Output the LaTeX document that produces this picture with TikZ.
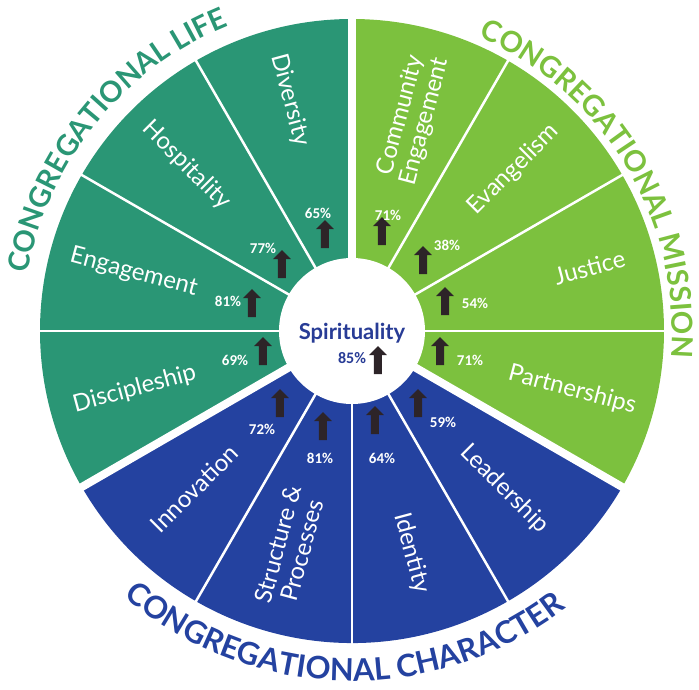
\documentclass[tikz,border=0pt]{standalone}
\usepackage{fontspec}
\setmainfont{Lato}
\newfontfamily\pctfont{Carlito}
\usetikzlibrary{shapes.arrows,decorations.text}

\definecolor{lifeteal}{RGB}{42,150,117}
\definecolor{missiongreen}{RGB}{124,193,62}
\definecolor{charblue}{RGB}{36,66,160}
\definecolor{spiritblue}{RGB}{40,60,150}
\definecolor{arrowdark}{RGB}{45,36,40}

\begin{document}
\begin{tikzpicture}[
			x=1pt, y=1pt,
			section gap/.style={white, line width=8pt},
			segment gap/.style={white, line width=2.5pt},
			segment label/.style={text=white, align=center, inner sep=0pt,
				font=\fontsize{24}{25}\selectfont},
			pct label/.style={text=white, inner sep=0pt,
				font=\pctfont\bfseries\fontsize{15}{15}\selectfont},
			up arrow/.style={
				single arrow, fill=arrowdark, draw=none,
				shape border rotate=90, inner sep=3.8pt,
				minimum height=28pt, minimum width=17pt,
				single arrow head extend=5pt
			},
			ring title/.style={decorate, decoration={text along path, text align=center}}
			]
			\useasboundingbox (-352,-358) rectangle (347,331);
			
			% the three sections of the wheel
			\fill[lifeteal] (0,0) -- (90:312) arc[start angle=90, end angle=210, radius=312] -- cycle;
			\fill[missiongreen] (0,0) -- (90:312) arc[start angle=90, end angle=-30, radius=312] -- cycle;
			\fill[charblue] (0,0) -- (210:312) arc[start angle=210, end angle=330, radius=312] -- cycle;
			
			\draw[segment gap] (0,0) -- (120:318);
			\draw[segment gap] (0,0) -- (150:318);
			\draw[segment gap] (0,0) -- (180:318);
			\draw[segment gap] (0,0) -- (60:318);
			\draw[segment gap] (0,0) -- (30:318);
			\draw[segment gap] (0,0) -- (0:318);
			\draw[segment gap] (0,0) -- (240:318);
			\draw[segment gap] (0,0) -- (270:318);
			\draw[segment gap] (0,0) -- (300:318);
			
			\draw[section gap] (0,0) -- (90:320);
			\draw[section gap] (0,0) -- (210:320);
			\draw[section gap] (0,0) -- (330:320);
			
			\fill[white] (0,0) circle[radius=73];
			
			% titles round the rim
			\path[ring title, decoration={text color=lifeteal,
				text={|\bfseries\fontsize{29}{29}\selectfont|CONGREGATIONAL LIFE}}]
				(201:329) arc[start angle=201, end angle=81, radius=329];
			\path[ring title, decoration={text color=missiongreen,
				text={|\bfseries\fontsize{29}{29}\selectfont|CONGREGATIONAL MISSION}}]
				(71:320) arc[start angle=71, end angle=-9, radius=320];
			\path[ring title, decoration={text color=charblue,
				text={|\bfseries\fontsize{31}{31}\selectfont|CONGREGATIONAL CHARACTER}}]
				(218.5:350) arc[start angle=218.5, end angle=318.5, radius=350];
			
			% segment names
			\node[segment label, rotate=-75] (diversity) at (105:239) {Diversity};
			\node[segment label, rotate=-45] (hospitality) at (135:234) {Hospitality};
			\node[segment label, rotate=-15] (engagement) at (165:226) {Engagement};
			\node[segment label, rotate=15] (discipleship) at (195:225) {Discipleship};
			\node[segment label, rotate=45] (innovation) at (225:223) {Innovation};
			\node[segment label, rotate=75] (structure) at (254:225) {Structure \&\\Processes};
			\node[segment label, rotate=-75] (identity) at (285:230) {Identity};
			\node[segment label, rotate=-45] (leadership) at (314:219) {Leadership};
			\node[segment label, rotate=-15] (partnerships) at (345:228) {Partnerships};
			\node[segment label, rotate=15] (justice) at (15:246) {Justice};
			\node[segment label, rotate=45] (evangelism) at (45:228) {Evangelism};
			\node[segment label, rotate=75] (community) at (74:221) {Community\\Engagement};
			
			% scores
			\node[up arrow] (arDiv) at (-27,95) {};
			\node[pct label] (pDiv) at (-34,118) {65\%};
			\node[up arrow] (arHosp) at (-70,65) {};
			\node[pct label] (pHosp) at (-89,83) {77\%};
			\node[up arrow] (arEng) at (-100,26) {};
			\node[pct label] (pEng) at (-124,30) {81\%};
			\node[up arrow] (arDisc) at (-89,-22) {};
			\node[pct label] (pDisc) at (-117,-29) {69\%};
			\node[up arrow] (arInn) at (-72,-74) {};
			\node[pct label] (pInn) at (-90,-98) {72\%};
			\node[up arrow] (arStr) at (-29,-97) {};
			\node[pct label] (pStr) at (-32,-127) {81\%};
			\node[up arrow] (arIdt) at (23,-91) {};
			\node[pct label] (pIdt) at (30,-127) {64\%};
			\node[up arrow] (arLead) at (66,-74) {};
			\node[pct label] (pLead) at (91,-91) {59\%};
			\node[up arrow] (arPart) at (88,-22) {};
			\node[pct label] (pPart) at (118,-29) {71\%};
			\node[up arrow] (arJust) at (93,28) {};
			\node[pct label] (pJust) at (123,28) {54\%};
			\node[up arrow] (arEvan) at (71,69) {};
			\node[pct label] (pEvan) at (95,86) {38\%};
			\node[up arrow] (arComm) at (30,98) {};
			\node[pct label] (pComm) at (36,116) {71\%};
			
			% hub
			\node[text=spiritblue, font=\bfseries\fontsize{22}{22}\selectfont] (spirit) at (0,-2) {Spirituality};
			\node[text=spiritblue, inner sep=0pt, font=\pctfont\bfseries\fontsize{16}{16}\selectfont] (pSpirit) at (0,-27) {85\%};
			\node[up arrow] (arSpirit) at (26,-31) {};
			
		\end{tikzpicture}
\end{document}
